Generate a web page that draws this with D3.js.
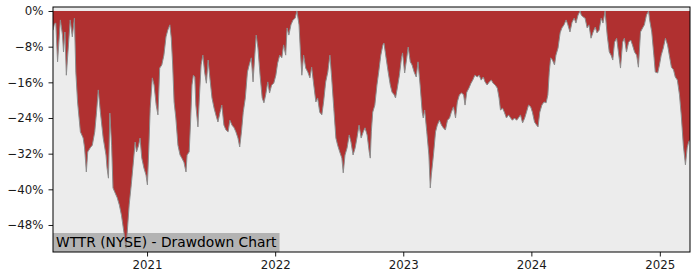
<!DOCTYPE html>
<html>
<head>
<meta charset="utf-8">
<script src="https://cdn.jsdelivr.net/npm/d3@7"></script>
<style>
  html, body { margin: 0; padding: 0; background: #ffffff; }
  svg { display: block; }
  text { font-family: "DejaVu Sans", sans-serif; }
</style>
</head>
<body>
<svg id="chart" width="700" height="280"></svg>
<script>
// ---- data ----
const title = "WTTR (NYSE) - Drawdown Chart";
const dates = [
"2020-04-08","2020-04-12","2020-04-16","2020-04-21","2020-04-29","2020-05-05","2020-05-08","2020-05-12","2020-05-16","2020-05-22",
"2020-05-27","2020-06-02","2020-06-08","2020-06-12","2020-06-17","2020-06-25","2020-07-03","2020-07-07","2020-07-12","2020-07-16",
"2020-07-23","2020-07-29","2020-08-05","2020-08-10","2020-08-15","2020-08-21","2020-08-29","2020-09-06","2020-09-09","2020-09-13",
"2020-09-17","2020-09-22","2020-09-26","2020-10-02","2020-10-08","2020-10-14","2020-10-20","2020-10-27","2020-11-02","2020-11-05",
"2020-11-11","2020-11-17","2020-11-23","2020-11-28","2020-12-02","2020-12-08","2020-12-12","2020-12-17","2020-12-23","2020-12-29",
"2021-01-02","2021-01-06","2021-01-10","2021-01-16","2021-01-21","2021-01-27","2021-02-01","2021-02-06","2021-02-12","2021-02-18",
"2021-02-24","2021-03-01","2021-03-07","2021-03-11","2021-03-15","2021-03-19","2021-03-24","2021-03-30","2021-04-05","2021-04-10",
"2021-04-16","2021-04-22","2021-04-25","2021-05-01","2021-05-05","2021-05-09","2021-05-13","2021-05-17","2021-05-20","2021-05-26",
"2021-05-30","2021-06-04","2021-06-09","2021-06-14","2021-06-19","2021-06-24","2021-06-29","2021-07-05","2021-07-11","2021-07-16",
"2021-07-22","2021-07-28","2021-08-02","2021-08-08","2021-08-14","2021-08-20","2021-08-25","2021-08-31","2021-09-06","2021-09-11",
"2021-09-17","2021-09-22","2021-09-27","2021-10-02","2021-10-08","2021-10-14","2021-10-19","2021-10-25","2021-10-30","2021-11-04",
"2021-11-08","2021-11-13","2021-11-19","2021-11-25","2021-11-30","2021-12-05","2021-12-11","2021-12-16","2021-12-22","2021-12-28",
"2022-01-03","2022-01-08","2022-01-14","2022-01-20","2022-01-25","2022-01-31","2022-02-04","2022-02-09","2022-02-15","2022-02-21",
"2022-02-27","2022-03-04","2022-03-10","2022-03-14","2022-03-18","2022-03-23","2022-03-29","2022-04-04","2022-04-10","2022-04-15",
"2022-04-21","2022-04-27","2022-05-02","2022-05-08","2022-05-14","2022-05-19","2022-05-25","2022-05-31","2022-06-06","2022-06-11",
"2022-06-17","2022-06-23","2022-06-28","2022-07-04","2022-07-10","2022-07-14","2022-07-19","2022-07-25","2022-07-31","2022-08-05",
"2022-08-11","2022-08-17","2022-08-22","2022-08-28","2022-09-03","2022-09-09","2022-09-14","2022-09-20","2022-09-26","2022-09-29",
"2022-10-02","2022-10-06","2022-10-12","2022-10-18","2022-10-23","2022-10-29","2022-11-04","2022-11-07","2022-11-13","2022-11-19",
"2022-11-25","2022-11-30","2022-12-06","2022-12-10","2022-12-15","2022-12-21","2022-12-27","2022-12-30","2023-01-05","2023-01-11",
"2023-01-15","2023-01-21","2023-01-26","2023-02-01","2023-02-07","2023-02-12","2023-02-18","2023-02-24","2023-02-27","2023-03-03",
"2023-03-09","2023-03-15","2023-03-19","2023-03-22","2023-03-28","2023-04-03","2023-04-08","2023-04-14","2023-04-20","2023-04-25",
"2023-05-01","2023-05-07","2023-05-13","2023-05-18","2023-05-24","2023-05-30","2023-06-04","2023-06-10","2023-06-16","2023-06-22",
"2023-06-26","2023-07-01","2023-07-07","2023-07-13","2023-07-18","2023-07-24","2023-07-31","2023-08-05","2023-08-11","2023-08-17",
"2023-08-22","2023-08-28","2023-09-03","2023-09-09","2023-09-14","2023-09-20","2023-09-26","2023-10-01","2023-10-05","2023-10-11",
"2023-10-16","2023-10-22","2023-10-28","2023-11-03","2023-11-08","2023-11-14","2023-11-20","2023-11-25","2023-12-01","2023-12-07",
"2023-12-13","2023-12-18","2023-12-24","2023-12-30","2024-01-04","2024-01-10","2024-01-16","2024-01-20","2024-01-25","2024-01-31",
"2024-02-06","2024-02-12","2024-02-17","2024-02-21","2024-02-25","2024-03-01","2024-03-07","2024-03-11","2024-03-17","2024-03-23",
"2024-03-28","2024-04-03","2024-04-09","2024-04-14","2024-04-20","2024-04-26","2024-05-02","2024-05-07","2024-05-13","2024-05-19",
"2024-05-22","2024-05-27","2024-06-02","2024-06-08","2024-06-13","2024-06-19","2024-06-25","2024-07-01","2024-07-06","2024-07-12",
"2024-07-18","2024-07-23","2024-07-29","2024-08-04","2024-08-10","2024-08-15","2024-08-20","2024-08-25","2024-08-31","2024-09-05",
"2024-09-11","2024-09-17","2024-09-22","2024-09-28","2024-10-04","2024-10-10","2024-10-15","2024-10-21","2024-10-27","2024-11-01",
"2024-11-07","2024-11-13","2024-11-18","2024-11-24","2024-11-30","2024-12-03","2024-12-09","2024-12-15","2024-12-19","2024-12-26",
"2024-12-31","2025-01-05","2025-01-11","2025-01-17","2025-01-23","2025-01-28","2025-02-03","2025-02-09","2025-02-14","2025-02-20",
"2025-02-26","2025-03-03","2025-03-09","2025-03-15","2025-03-20","2025-03-24","2025-03-28"
];
const drawdown = [
-4.3,-2.9,-2.7,-11.4,-2.0,-5.4,-9.2,-4.7,-14.4,-7.6,
-2.0,-5.8,-1.6,-13.7,-20.4,-27.1,-28.5,-30.7,-36.1,-31.6,
-30.7,-30.1,-27.1,-22.7,-17.7,-22.7,-28.5,-32.3,-35.2,-37.5,
-22.9,-30.1,-39.7,-40.8,-41.9,-43.5,-45.8,-49.6,-53.2,-50.2,
-43.5,-39.0,-33.9,-29.4,-31.6,-30.1,-28.5,-33.0,-35.2,-36.8,
-39.0,-30.7,-21.8,-15.0,-16.6,-21.1,-23.3,-12.8,-12.1,-9.9,
-5.8,-4.3,-3.1,-6.1,-12.1,-20.4,-24.0,-30.1,-32.3,-33.0,
-33.9,-36.1,-32.3,-31.6,-24.9,-16.6,-14.4,-14.8,-21.1,-26.0,
-19.5,-12.1,-9.9,-13.7,-16.2,-11.0,-15.0,-19.5,-21.8,-23.3,
-24.9,-22.7,-21.1,-25.6,-26.7,-27.1,-24.5,-25.6,-26.2,-27.1,
-28.5,-30.5,-27.1,-22.7,-19.5,-13.7,-12.1,-10.5,-15.9,-9.9,
-5.4,-8.3,-14.4,-19.5,-20.6,-18.8,-15.9,-18.4,-16.6,-16.2,
-14.4,-11.7,-9.9,-10.5,-7.6,-9.9,-3.8,-5.4,-3.1,-2.0,
-1.6,0,-3.1,-9.2,-14.4,-9.9,-12.8,-13.7,-15.0,-12.6,
-16.6,-20.4,-19.5,-22.7,-23.3,-20.4,-15.9,-13.7,-9.9,-15.0,
-21.8,-28.5,-30.1,-31.6,-33.0,-36.3,-32.3,-30.7,-27.8,-29.4,
-32.3,-30.7,-28.5,-25.6,-28.5,-27.1,-26.2,-27.8,-31.6,-33.0,
-27.1,-22.7,-21.1,-16.6,-13.7,-9.9,-7.6,-7.2,-10.5,-13.7,
-16.6,-18.2,-18.8,-19.5,-17.3,-14.4,-10.5,-9.4,-13.9,-10.5,
-8.1,-11.4,-12.1,-13.7,-14.8,-11.4,-16.6,-22.7,-24.0,-22.2,
-27.1,-32.3,-39.7,-36.8,-32.3,-27.1,-25.6,-24.5,-25.6,-26.2,
-26.7,-24.5,-24.0,-22.7,-21.5,-24.0,-20.4,-18.8,-18.4,-18.8,
-21.1,-18.2,-17.3,-16.2,-15.5,-14.4,-14.8,-14.4,-15.5,-14.8,
-15.9,-16.6,-15.9,-15.5,-16.2,-16.6,-17.3,-19.5,-22.2,-21.8,
-22.7,-24.0,-23.3,-24.0,-24.5,-24.0,-24.5,-24.0,-23.3,-25.1,
-24.0,-22.7,-21.1,-21.5,-22.7,-24.9,-25.6,-26.0,-22.7,-21.1,
-20.4,-20.6,-18.8,-13.7,-10.5,-11.0,-12.1,-9.9,-8.3,-4.9,
-3.8,-3.1,-2.0,-3.1,-4.7,-2.5,-1.6,-2.7,-0.9,0,
-0.9,-1.3,-1.6,-3.8,-3.1,-6.1,-4.7,-3.6,-4.9,-4.3,
-1.6,-2.7,0,-5.4,-9.2,-9.9,-11.0,-7.0,-6.1,-9.2,
-12.8,-7.0,-6.1,-9.2,-7.0,-6.5,-7.6,-9.2,-9.9,-12.6,
-4.7,-3.8,-3.1,-0.9,0,-2.0,-4.7,-9.9,-13.7,-13.9,
-12.1,-9.9,-8.3,-6.1,-7.6,-9.9,-12.6,-13.2,-14.8,-15.5,
-18.8,-23.3,-30.1,-34.5,-30.7,-29.4,-28.9
];
const yTicks = [0, -8, -16, -24, -32, -40, -48];
const yDomain = [-54.06, 0.9];
const xTickYears = ["2021", "2022", "2023", "2024", "2025"];

// ---- drawing ----
const parse = d3.timeParse("%Y-%m-%d");
const data = dates.map((d, i) => ({ date: parse(d), v: drawdown[i] }));

const svg = d3.select("#chart");
const pL = 53, pR = 690, pT = 7, pB = 252;

const x = d3.scaleTime().domain(d3.extent(data, d => d.date)).range([pL, pR]);
const y = d3.scaleLinear().domain(yDomain).range([pB, pT]);

svg.append("rect").attr("width", 700).attr("height", 280).attr("fill", "#ffffff");

svg.append("defs").append("clipPath").attr("id", "clip")
  .append("rect").attr("x", pL).attr("y", pT).attr("width", pR - pL).attr("height", pB - pT);

svg.append("rect")
  .attr("x", pL).attr("y", pT).attr("width", pR - pL).attr("height", pB - pT)
  .attr("fill", "#ececec");

// title box background (drawn under the area)
const boxRect = svg.append("rect")
  .attr("x", pL).attr("y", pB - 19).attr("height", 19)
  .attr("fill", "#b3b3b3");

const g = svg.append("g").attr("clip-path", "url(#clip)");

const area = d3.area()
  .x(d => x(d.date))
  .y0(y(0))
  .y1(d => y(d.v));

g.append("path").datum(data)
  .attr("d", area)
  .attr("fill", "#b03030");

g.append("path").datum(data)
  .attr("d", d3.line().x(d => x(d.date)).y(d => y(d.v)))
  .attr("fill", "none")
  .attr("stroke", "#8c8c8c")
  .attr("stroke-width", 1);

// title text
const tText = svg.append("text")
  .attr("x", pL + 3)
  .attr("y", pB - 5)
  .attr("font-size", "13.8px")
  .attr("fill", "#000")
  .text(title);
boxRect.attr("width", tText.node().getComputedTextLength() + 6);

// axes
const fmtPct = v => (v < 0 ? "\u2212" + Math.abs(v) : String(v)) + "%";
const yAxis = d3.axisLeft(y).tickValues(yTicks).tickFormat(fmtPct).tickSize(4.5).tickPadding(5);
const yg = svg.append("g").attr("transform", `translate(${pL},0)`).call(yAxis);

const yearDates = xTickYears.map(s => parse(s + "-01-01"));
const xAxis = d3.axisBottom(x).tickValues(yearDates).tickFormat((d, i) => xTickYears[i]).tickSize(4.5).tickPadding(4);
const xg = svg.append("g").attr("transform", `translate(0,${pB})`).call(xAxis);

[yg, xg].forEach(a => {
  a.select(".domain").remove();
  a.selectAll("text").attr("font-family", "DejaVu Sans").attr("font-size", "11.8px").attr("fill", "#1a1a1a");
  a.selectAll("line").attr("stroke", "#000").attr("stroke-width", 0.9);
});

// frame
svg.append("rect")
  .attr("x", pL).attr("y", pT).attr("width", pR - pL).attr("height", pB - pT)
  .attr("fill", "none").attr("stroke", "#000").attr("stroke-width", 1);
</script>
</body>
</html>
